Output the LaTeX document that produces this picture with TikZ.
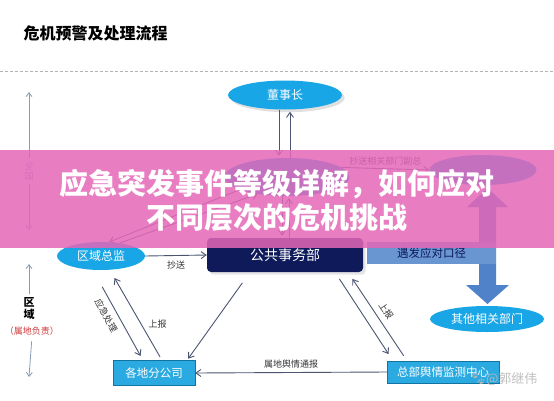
\documentclass[tikz,border=0pt]{standalone}
\usepackage{fontspec}
\setmainfont{Noto Sans CJK SC}
\newfontfamily\emojifont{Noto Emoji}
\usetikzlibrary{arrows.meta, positioning, shapes.geometric, shadows}
\definecolor{myblue}{HTML}{19A6E6}
\definecolor{mynavy}{HTML}{0E1A5A}
\definecolor{mysteel}{HTML}{4F82C9}
\definecolor{mycyan}{HTML}{2BAAE2}
\definecolor{myline}{HTML}{4B5572}
\definecolor{mygray}{HTML}{8A9AB5}
\definecolor{mypink}{HTML}{E467B8}
\definecolor{myred}{HTML}{D0393B}

\begin{document}
\begin{tikzpicture}[x=1pt, y=-1pt,
  ell/.style={ellipse, fill=myblue, text=white, inner sep=0pt,
    font=\fontsize{12}{12}\selectfont},
  cbox/.style={draw=myblue!70!black, fill=mycyan, text=white, inner sep=0pt,
    font=\fontsize{11.5}{12}\selectfont},
  arr/.style={-{Straight Barb[length=5pt,width=7pt]}, myline, line width=0.9pt},
  lab/.style={font=\fontsize{9}{9}\selectfont, text=black!80, inner sep=1pt},
  axarr/.style={-{Straight Barb[length=4pt,width=6pt]}, mygray, line width=0.8pt}
]
\useasboundingbox (0,0) rectangle (554,400);
\fill[white] (0,0) rectangle (554,400);

% title and rule
\node[anchor=west, font=\bfseries\fontsize{16}{16}\selectfont] (ttl) at (20,33) {危机预警及处理流程};
\draw[gray!60, dash pattern=on 3pt off 2pt] (0,71) -- (554,71);

% left scale
\node[font=\fontsize{9}{10}\selectfont, text=mygray, align=center] (qg) at (29,171) {全\\国};
\coordinate (qgtop) at (29,92);
\coordinate (qgbot) at (29,230);
\draw[axarr] (qg.north) -- (qgtop);
\draw[axarr] (qg.south) -- (qgbot);
\node[font=\bfseries\fontsize{11}{12}\selectfont, align=center] (qy) at (29,309) {区\\域};
\node[text=myred, font=\fontsize{9}{9}\selectfont, inner sep=1pt] (sdfz) at (32,331) {（属地负责）};
\coordinate (qytop) at (29,264);
\coordinate (qybot) at (29,377);
\draw[axarr] (qy.north) -- (qytop);
\draw[axarr, shorten <=5pt] (sdfz.south) -- (qybot);

% nodes
\node[ell, minimum width=114pt, minimum height=29pt,
  drop shadow={opacity=0.25}] (dsz) at (285,95) {董事长};
\node[ell, minimum width=125pt, minimum height=38pt] (zj) at (287,177) {};
\node[ell, minimum width=107pt, minimum height=30pt] (xgfz) at (483,170) {};
\node[rounded corners=4pt, fill=mynavy, text=white, minimum width=156pt,
  minimum height=34pt, font=\fontsize{14}{14}\selectfont,
  drop shadow={opacity=0.2}] (ggswb) at (285,255) {公共事务部};
\fill[mysteel] (479,242) -- (479,207) -- (467,207) -- (487.5,188) -- (508,207)
  -- (496,207) -- (496,285) -- (509,285) -- (487.5,304) -- (466,285)
  -- (479,285) -- cycle;
\node[fill=mysteel!85!white, text=mynavy, minimum width=129pt, minimum height=22pt,
  inner sep=0pt, font=\fontsize{11.5}{12}\selectfont] (kj) at (431.5,253) {遇发应对口径};
\node[ell, minimum width=88pt, minimum height=28pt] (qyzj) at (101,256) {区域总监};
\node[cbox, minimum width=82pt, minimum height=25pt] (gdfgs) at (154,373) {各地分公司};
\node[cbox, minimum width=112pt, minimum height=22pt] (zbjc) at (443,372) {总部舆情监测中心};
\node[ell, minimum width=114pt, minimum height=26pt] (qtbm) at (487,319) {其他相关部门};

% connectors
\draw[arr, shorten >=2pt] ([xshift=-6pt]dsz.south) -- ([xshift=-8pt]zj.north);
\draw[arr, shorten >=2pt] ([xshift=3pt]zj.north) -- ([xshift=5pt]dsz.south);
\draw[arr, shorten >=2pt] ([xshift=-5pt]zj.south) -- ([xshift=-3pt]ggswb.north);
\draw[arr, shorten >=2pt] ([xshift=4pt]ggswb.north) -- ([xshift=2pt]zj.south);
\draw[arr] (zj.195) -- (qyzj.60);
\draw[arr] (qyzj.35) -- (zj.210);
\draw[arr] (zj.10) -- node[lab, above=2pt] {抄送相关部门副总} (xgfz.west);
\draw[arr] (qyzj.east) -- node[lab, below=4pt] {抄送} (ggswb.west);
\draw[arr, shorten <=19pt, shorten >=5pt] ([xshift=-8pt]qyzj.south)
  -- node[lab, sloped, pos=0.45, below=5pt] {应急处理} ([xshift=-11pt]gdfgs.north);
\draw[arr, shorten <=4pt, shorten >=9pt] ([xshift=8pt]gdfgs.north)
  -- node[lab, pos=0.4, right=6pt] {上报} ([xshift=9pt]qyzj.south);
\draw[arr, shorten <=13pt, shorten >=2pt] ([xshift=-35pt]ggswb.south) -- ([xshift=33pt]gdfgs.north);
\draw[arr, shorten <=8pt, shorten >=8pt] ([xshift=50pt]ggswb.south) -- ([xshift=-50pt]zbjc.north);
\draw[arr, shorten <=6pt, shorten >=8pt] ([xshift=-36pt]zbjc.north)
  -- node[lab, sloped, above=5pt] {上报} ([xshift=63pt]ggswb.south);
\draw[arr] (zbjc.west) -- node[lab, above=3pt] {属地舆情通报} (gdfgs.east);

% pink band
\fill[mypink, opacity=0.85] (0,150) rectangle (554,248);
\node[text=white, align=center, font=\bfseries\fontsize{29}{34}\selectfont] (band) at (277,200)
  {应急突发事件等级详解，如何应对\\不同层次的危机挑战};

% watermark
\node[text=gray!55, opacity=0.9, anchor=west, font=\fontsize{13}{13}\selectfont] (wm) at (466,379)
  {{\emojifont 🐾}@郭继伟};
\end{tikzpicture}
\end{document}
